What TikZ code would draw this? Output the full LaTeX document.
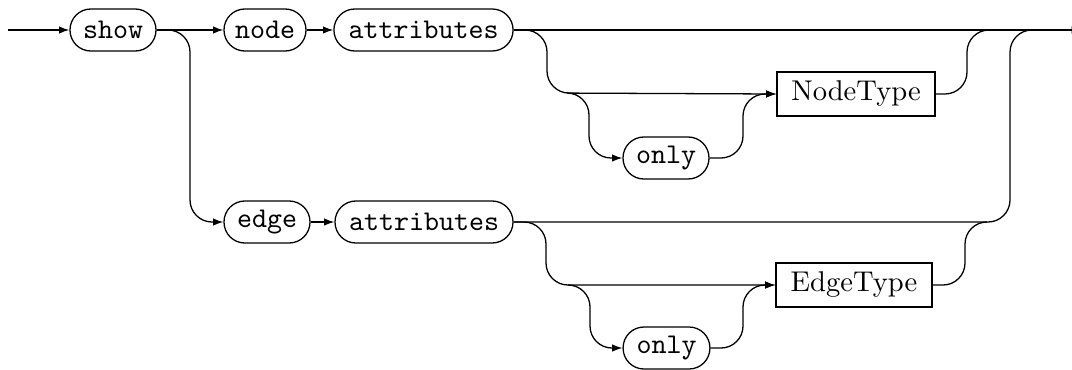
\documentclass[tikz,border=0pt]{standalone}
\usetikzlibrary{arrows.meta}
\begin{document}
\begin{tikzpicture}[x=0.35pt,y=-0.35pt,line width=0.45pt,
  term/.style={draw,rectangle,rounded corners=7.3pt,inner sep=0pt,minimum height=14.7pt,font=\ttfamily},
  nonterm/.style={draw,rectangle,inner sep=0pt,minimum height=15.4pt},
  rail/.style={rounded corners=7.7pt},
  arr/.style={-{Latex[length=3.6pt,width=2.6pt]}}]
\useasboundingbox (0,0) rectangle (1072,369);
% nodes
\node[term,minimum width=30.1pt] (show) at (113,30) {show};
\node[term,minimum width=28.7pt] (node) at (265,30) {node};
\node[term,minimum width=62.7pt] (attrA) at (423.5,30) {attributes};
\node[term,minimum width=30.1pt] (onlyA) at (666,158) {only};
\node[nonterm,minimum width=55.3pt] (ntype) at (856,94) {NodeType};
\node[term,minimum width=30.1pt] (edge) at (267,222) {edge};
\node[term,minimum width=62.3pt] (attrB) at (424,222) {attributes};
\node[nonterm,minimum width=54.6pt] (etype) at (854,285) {EdgeType};
\node[term,minimum width=30.4pt] (onlyB) at (666.5,348) {only};
% coordinates
\coordinate (start) at (8,30);
\coordinate (finish) at (1082,30);
\coordinate (nA) at (547,93);
\coordinate (nB) at (567,93);
\coordinate (nC) at (589,158);
\coordinate (nD) at (743,94);
\coordinate (nE) at (967,30);
\coordinate (nF) at (989,30);
\coordinate (sA) at (190,222);
\coordinate (eA) at (1010,30);
\coordinate (eB) at (1032,30);
\coordinate (eC) at (546,285);
\coordinate (eD) at (568,285);
\coordinate (eE) at (590,348);
\coordinate (eF) at (743,285);
\coordinate (eG) at (965,222);
\coordinate (eH) at (987,222);
% main line
\draw[arr] (start) -- (show.west);
\draw[arr] (show.east) -- (node.west);
\draw[arr] (node.east) -- (attrA.west);
\draw[arr] (attrA.east) -- (finish);
% node branch
\draw[arr,rail] (attrA.east) -| (nA) -- (ntype.west);
\draw[arr,rail] (nB) -| (nC) -- (onlyA.west);
\draw[arr,rail] (onlyA.east) -| (nD) -- (ntype.west);
\draw[rail] (ntype.east) -| (nE) -- (nF);
% edge branch
\draw[arr,rail] (show.east) -| (sA) -- (edge.west);
\draw[arr] (edge.east) -- (attrB.west);
\draw[rail] (attrB.east) -| (eA) -- (eB);
\draw[arr,rail] (attrB.east) -| (eC) -- (etype.west);
\draw[arr,rail] (eD) -| (eE) -- (onlyB.west);
\draw[arr,rail] (onlyB.east) -| (eF) -- (etype.west);
\draw[rail] (etype.east) -| (eG) -- (eH);
\end{tikzpicture}
\end{document}
